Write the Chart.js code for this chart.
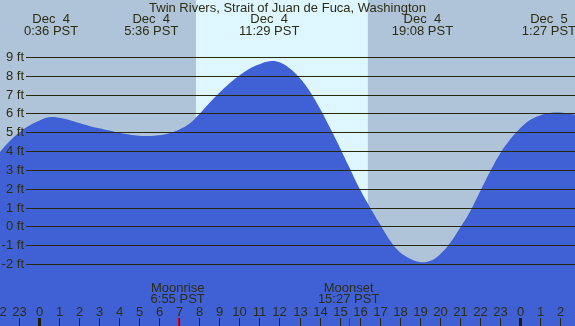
<!DOCTYPE html>
<html>
<head>
<meta charset="utf-8">
<script src="https://cdn.jsdelivr.net/npm/chart.js@4.4.1/dist/chart.umd.min.js"></script>
<style>
  body { margin: 0; background: #afc3d9; }
  #wrap { width: 575px; height: 326px; }
</style>
</head>
<body>
<div id="wrap"><canvas id="tide-chart"></canvas></div>
<script>
// hours since Dec 4 00:00 PST, tide height in ft
const hours = [-2, -1.5, -1, -0.5, 0, 0.5, 1, 1.5, 2, 2.5, 3, 3.5, 4, 4.5, 5, 5.5, 6, 6.5, 7, 7.5,
  8, 8.5, 9, 9.5, 10, 10.5, 11, 11.5, 12, 12.5, 13, 13.5, 14, 14.5, 15, 15.5, 16, 16.5, 17, 17.5,
  18, 18.5, 19, 19.5, 20, 20.5, 21, 21.5, 22, 22.5, 23, 23.5, 24, 24.5, 25, 25.5, 26, 26.5, 27];
const heights = [3.9, 4.5, 4.98, 5.35, 5.62, 5.8, 5.77, 5.65, 5.49, 5.34, 5.22, 5.1, 4.98, 4.89, 4.82, 4.8, 4.84, 4.95, 5.15, 5.45,
  5.97, 6.56, 7.1, 7.6, 8.02, 8.38, 8.62, 8.78, 8.72, 8.4, 7.9, 7.2, 6.3, 5.28, 4.22, 3.1, 2.0, 1.05, 0.15, -0.72,
  -1.36, -1.7, -1.89, -1.84, -1.5, -0.9, -0.1, 0.77, 1.83, 2.89, 3.85, 4.6, 5.2, 5.65, 5.9, 6.03, 6.05, 5.98, 5.88];

const yTicks = [-2, -1, 0, 1, 2, 3, 4, 5, 6, 7, 8, 9];
const hourTicks = [-2, -1, 0, 1, 2, 3, 4, 5, 6, 7, 8, 9, 10, 11, 12, 13, 14, 15, 16, 17, 18, 19, 20, 21, 22, 23, 24, 25, 26];

const tideTimes = [0.6, 5.6, 11.483, 19.133, 25.45];
const tideDates = ['Dec  4', 'Dec  4', 'Dec  4', 'Dec  4', 'Dec  5'];
const tideLabels = ['0:36 PST', '5:36 PST', '11:29 PST', '19:08 PST', '1:27 PST'];

const moonTimes = [6.917, 15.45];
const moonNames = ['Moonrise', 'Moonset'];
const moonLabels = ['6:55 PST', '15:27 PST'];

const sunrise = 7.83, sunset = 16.41;
const title = 'Twin Rivers, Strait of Juan de Fuca, Washington';

const FONT = '13px "Liberation Sans", Arial, sans-serif';
const TEXT = '#2d2d12';

const tideDecor = {
  id: 'tideDecor',
  beforeDatasetsDraw(chart) {
    const { ctx, scales: { x } } = chart;
    ctx.save();
    ctx.fillStyle = '#afc3d9';
    ctx.fillRect(0, 0, chart.width, chart.height);
    ctx.fillStyle = '#ddf6ff';
    const x0 = x.getPixelForValue(sunrise), x1 = x.getPixelForValue(sunset);
    ctx.fillRect(x0, 0, x1 - x0, chart.height);
    ctx.restore();
  },
  afterDatasetsDraw(chart) {
    const { ctx, scales: { x, y } } = chart;
    const W = chart.width, H = chart.height;
    ctx.save();
    ctx.font = FONT;
    ctx.fillStyle = TEXT;
    ctx.textBaseline = 'middle';

    // horizontal ft lines and labels
    ctx.strokeStyle = '#28280a';
    ctx.lineWidth = 1.2;
    yTicks.forEach(v => {
      const py = Math.round(y.getPixelForValue(v)) + 0.5;
      ctx.beginPath();
      ctx.moveTo(26, py);
      ctx.lineTo(W, py);
      ctx.stroke();
      ctx.textAlign = 'right';
      ctx.fillText(v + ' ft', 24, py);
    });

    // title and tide extremes
    ctx.textAlign = 'center';
    ctx.fillText(title, W / 2, 8);
    tideTimes.forEach((t, i) => {
      const px = x.getPixelForValue(t);
      ctx.fillText(tideDates[i], px, 19.5);
      ctx.fillText(tideLabels[i], px, 31.5);
    });

    // hour labels and ticks
    hourTicks.forEach(h => {
      const px = Math.round(x.getPixelForValue(h));
      ctx.fillStyle = TEXT;
      ctx.fillText(String(((h % 24) + 24) % 24), px + 0.5, 312);
      if (h % 24 === 0) {
        ctx.fillStyle = '#1e1e06';
        ctx.fillRect(px - 1, 318, 3, H - 318);
      } else {
        ctx.fillStyle = '#2b2b08';
        ctx.fillRect(px, 318, 1, H - 318);
      }
    });

    // moonrise / moonset
    moonTimes.forEach((t, i) => {
      const px = x.getPixelForValue(t);
      ctx.fillStyle = TEXT;
      ctx.fillText(moonNames[i], px, 288);
      ctx.fillText(moonLabels[i], px, 299.5);
      ctx.fillStyle = '#e00000';
      ctx.fillRect(Math.round(px), 318, 1, H - 318);
    });
    ctx.restore();
  }
};

new Chart(document.getElementById('tide-chart'), {
  type: 'line',
  data: {
    datasets: [{
      data: hours.map((h, i) => ({ x: h, y: heights[i] })),
      fill: 'start',
      backgroundColor: '#4060d6',
      borderWidth: 0,
      borderColor: 'rgba(0,0,0,0)',
      pointRadius: 0,
      tension: 0.4
    }]
  },
  options: {
    responsive: true,
    maintainAspectRatio: false,
    animation: false,
    layout: { padding: 0 },
    plugins: { legend: { display: false }, tooltip: { enabled: false } },
    scales: {
      x: { type: 'linear', min: -1.95, max: 26.75, display: false },
      y: { min: -5.29, max: 12.03, display: false }
    }
  },
  plugins: [tideDecor]
});
</script>
</body>
</html>
